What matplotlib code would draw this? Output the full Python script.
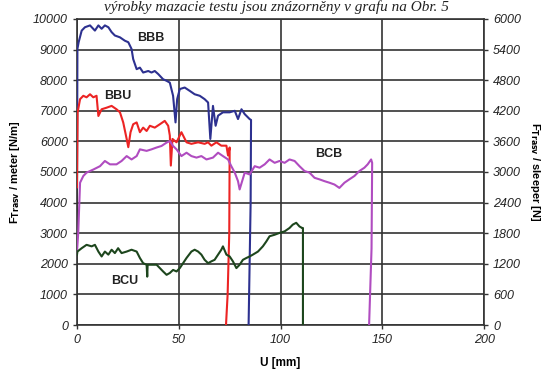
import matplotlib.pyplot as plt

plt.rcParams['font.family'] = ['Liberation Sans', 'DejaVu Sans']

# Values (U in mm, force in N/m)
bbb_u = [0, 0.2, 0.8, 2.3, 3.9, 6.4, 8.8, 10.5, 12.1, 13.7, 15.4, 17, 18.6, 21.1, 23.5,
         25.2, 26.8, 27.6, 29.3, 30.9, 32.5, 35, 36.6, 38.2, 39.9, 42.3, 44, 45.6, 47.2,
         48.4, 49.2, 50.5, 52.9, 55.4, 57.8, 60.3, 62.7, 64.4, 65.5, 66.8, 68.1, 69.3,
         71.7, 75, 77.5, 79.1, 80.8, 82.4, 84.8, 85.5, 85.3, 84.8, 84.3]
bbb_f = [4500, 9020, 9240, 9620, 9730, 9790, 9620, 9790, 9680, 9790, 9730, 9570, 9460, 9400,
         9290, 9240, 9020, 8690, 8360, 8410, 8250, 8300, 8250, 8300, 8200, 8030, 7980, 7920,
         7490, 6620, 7380, 7710, 7760, 7650, 7540, 7490, 7380, 7270, 6080, 7160, 6510, 6840,
         6950, 6950, 7000, 6730, 7050, 6890, 6730, 6700, 4000, 2000, 0]

bbu_u = [0, 0.3, 1.5, 3.1, 4.7, 6.4, 8, 9.6, 10.5, 12.1, 14.5, 17, 19.4, 21.1, 22.7, 24.4,
         25.2, 26.3, 27.6, 29.3, 30.9, 32.5, 34.2, 35.8, 38.2, 40.7, 43.1, 44.8, 45.6, 46.1,
         46.9, 48.9, 51.3, 53.8, 56.2, 59.5, 62.7, 64.4, 66, 68.5, 70.9, 73.4, 74.2, 75,
         74.8, 74, 73.2]
bbu_f = [4500, 6950, 7380, 7490, 7440, 7540, 7440, 7490, 6830, 7050, 7100, 7160, 7050, 6950,
         6620, 6080, 5810, 6300, 6560, 6620, 6300, 6450, 6340, 6510, 6450, 6560, 6670, 6510,
         6190, 5210, 6080, 5970, 6300, 5970, 5920, 5970, 5920, 5970, 5860, 5970, 5860, 5860,
         5540, 5800, 3000, 1000, 0]

bcb_u = [0, 0.6, 1.5, 3.1, 4.7, 8, 11.3, 13.7, 16.2, 19.4, 21.9, 24.4, 26.8, 29.3, 30.9,
         34.2, 36.6, 39.1, 41.5, 44, 45.6, 47.2, 48.9, 51.3, 53.8, 56.2, 58.7, 61.1, 63.6,
         66.8, 69.3, 71.7, 74.2, 75.8, 77.5, 79.1, 79.9, 82.4, 84.8, 87.3, 89.7, 92.2, 94.6,
         97.1, 99.5, 102, 104.4, 106.9, 109.3, 111.8, 114.2, 116.7, 119.1, 121.6, 124, 126.5,
         128.9, 131.4, 133.8, 136.3, 138.7, 141.2, 142.8, 144.5, 145, 144.7, 143.5]
bcb_f = [2400, 3010, 4650, 4870, 4980, 5080, 5190, 5360, 5250, 5250, 5360, 5520, 5410, 5520,
         5740, 5690, 5740, 5800, 5850, 5960, 6010, 5850, 5740, 5520, 5630, 5520, 5470, 5520,
         5410, 5470, 5630, 5520, 5410, 5190, 4980, 4700, 4430, 4980, 4920, 5190, 5140, 5250,
         5410, 5300, 5360, 5300, 5410, 5360, 5190, 5030, 4980, 4810, 4760, 4700, 4650, 4590,
         4480, 4650, 4760, 4870, 5030, 5140, 5250, 5410, 5300, 2500, 0]

bcu_u = [0, 0.2, 2.3, 4.7, 7.2, 8.8, 10.5, 12.1, 13.7, 15.4, 17, 18.6, 20.2, 21.9, 24.4,
         26.8, 29.3, 30.9, 32.5, 34.2, 34.5, 34.7, 36.6, 39.1, 40.7, 42.3, 44, 45.6, 47.2,
         48.9, 50.5, 52.1, 53.8, 56.2, 57.8, 59.5, 61.1, 62.7, 64.4, 66, 67.6, 69.3, 70.9,
         71.7, 73.4, 75, 76.6, 78.3, 79.9, 81.5, 83.2, 84.8, 86.4, 88.9, 91.3, 93, 94.6,
         97.1, 99.5, 102, 104.4, 106, 107.7, 109.3, 110.6, 111, 111]
bcu_f = [2300, 2400, 2510, 2620, 2570, 2620, 2400, 2240, 2400, 2300, 2460, 2350, 2510, 2350,
         2400, 2460, 2400, 2190, 2020, 1970, 1580, 1970, 1970, 1970, 1860, 1750, 1640, 1700,
         1800, 1750, 1860, 2020, 2190, 2400, 2460, 2400, 2300, 2130, 2020, 2080, 2130, 2300,
         2460, 2570, 2300, 2240, 2080, 1860, 1970, 2130, 2190, 2240, 2300, 2400, 2570, 2730,
         2900, 2950, 3010, 3060, 3170, 3280, 3340, 3220, 3170, 3170, 0]

series = [
    ('BBB', bbb_u, bbb_f, '#2d3190', (36.5, 9380)),
    ('BBU', bbu_u, bbu_f, '#ec2424', (19.8, 7480)),
    ('BCB', bcb_u, bcb_f, '#b04cc0', (123.5, 5580)),
    ('BCU', bcu_u, bcu_f, '#1d461d', (23.5, 1440)),
]

x_ticks = [0, 50, 100, 150, 200]
left_ticks = list(range(0, 10001, 1000))
right_ticks = list(range(0, 6001, 600))

fig = plt.figure(figsize=(5.52, 3.72), dpi=100)
ax = fig.add_axes([0.1395, 0.1263, 0.7375, 0.8227])

grid_col = '#333333'
for name, u, f, col, pos in series:
    ax.plot(u, f, color=col, lw=1.5, zorder=3)
    ax.text(pos[0], pos[1], name, fontsize=9, fontweight='bold', color='#222222',
            ha='center', va='center', zorder=4)

ax.set_xlim(0, 200)
ax.set_ylim(0, 10000)
ax.set_xticks(x_ticks)
ax.set_yticks(left_ticks)
ax.grid(True, color=grid_col, lw=1.2)
ax.set_axisbelow(True)
for s in ax.spines.values():
    s.set_color(grid_col)
    s.set_linewidth(1.2)
ax.tick_params(colors='#222222', labelsize=9, length=3, color=grid_col, width=1)
for lab in ax.get_xticklabels() + ax.get_yticklabels():
    lab.set_fontstyle('italic')

ax.set_xlabel('U [mm]', fontsize=8.5, fontweight='bold', labelpad=8)
ax.set_ylabel(r'F$_{\mathbf{Trasv}}$ / meter [N/m]', fontsize=8, fontweight='bold', labelpad=8)

ax2 = ax.twinx()
ax2.set_ylim(0, 6000)
ax2.set_yticks(right_ticks)
ax2.tick_params(colors='#222222', labelsize=9, length=3, color=grid_col, width=1)
for lab in ax2.get_yticklabels():
    lab.set_fontstyle('italic')
for s in ax2.spines.values():
    s.set_visible(False)
ax2.set_ylabel(r'F$_{\mathbf{Trasv}}$ / sleeper [N]', fontsize=8, fontweight='bold',
               rotation=270, labelpad=15)

# line of page text above the figure
fig.text(0.5, 1 - 11 / 372, 'výrobky mazacie testu jsou znázorněny v grafu na Obr. 5',
         fontsize=11, family='Liberation Serif', style='italic', ha='center',
         va='baseline', color='#222222')

fig.savefig('out.png', dpi=100)
plt.close(fig)
